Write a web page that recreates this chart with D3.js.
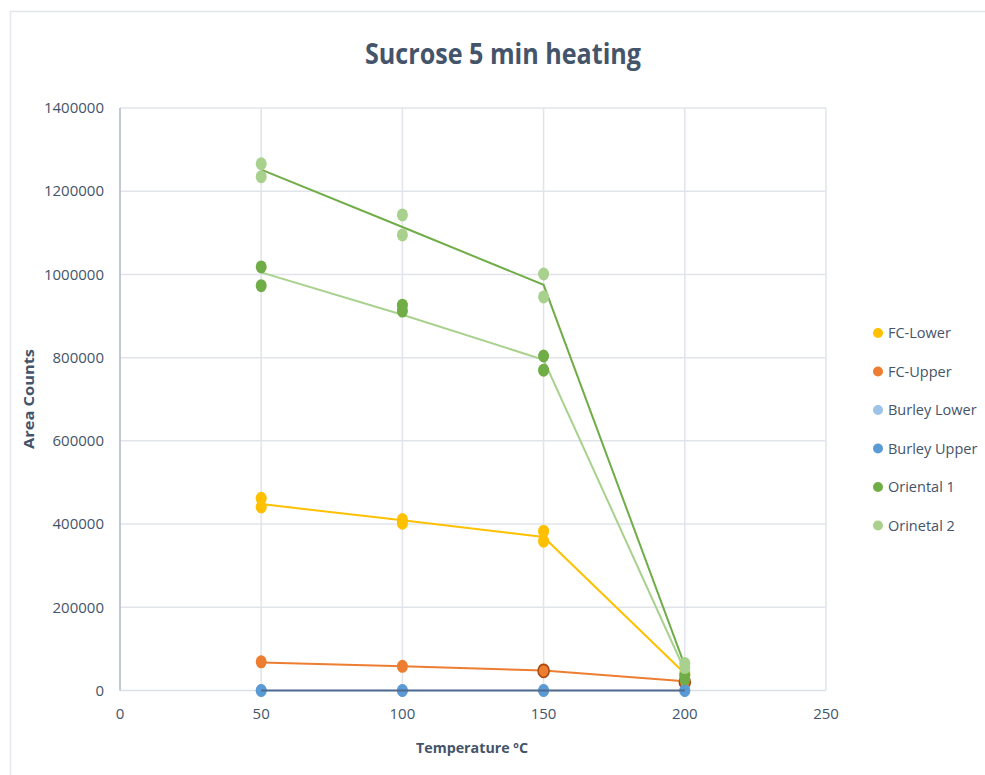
<!DOCTYPE html>
<html>
<head>
<meta charset="utf-8">
<script src="https://cdn.jsdelivr.net/npm/d3@7"></script>
<style>
  body { margin: 0; background: #fff; }
  svg { display: block; }
</style>
</head>
<body>
<svg id="chart" width="985" height="775"></svg>
<script>
// Data
const temps = [50, 100, 150, 200];

// two replicate readings per temperature
const fcLowerA = [462000, 411000, 383000, 42000];
const fcLowerB = [441000, 402000, 359000, 38000];
const fcUpperA = [69000, 58000, 50000, 23000];
const fcUpperB = [68000, 57000, 47000, 20000];
const burleyLowerA = [0, 0, 0, 0];
const burleyUpperA = [0, 0, 0, 0];
const oriental1A = [1018000, 926000, 804000, 36000];
const oriental1B = [973000, 912000, 770000, 28000];
const orinetal2A = [1266000, 1143000, 1001000, 65000];
const orinetal2B = [1235000, 1095000, 946000, 55000];

// connecting (mean) lines
const lineFcLower = [448000, 409000, 369000, 41000];
const lineFcUpper = [67000, 58000, 48000, 22000];
const lineBurley = [0, 0, 0, 0];
const lineOriDark = [1252000, 1114000, 975000, 60000];
const lineOriLight = [1005000, 903000, 795000, 48000];

const xTicks = [0, 50, 100, 150, 200, 250];
const yTicks = [0, 200000, 400000, 600000, 800000, 1000000, 1200000, 1400000];

const legendNames = ["FC-Lower", "FC-Upper", "Burley Lower", "Burley Upper", "Oriental 1", "Orinetal 2"];
const legendColors = ["#FFC000", "#ED7D31", "#9DC3E6", "#5B9BD5", "#70AD47", "#A9D18E"];

const svg = d3.select("#chart");
const textColor = "#44546A";
const font = "'Open Sans', 'DejaVu Sans', sans-serif";

// outer frame
svg.append("rect")
  .attr("x", 10.5).attr("y", 11.5)
  .attr("width", 1000).attr("height", 800)
  .attr("fill", "none").attr("stroke", "#E3E6EC").attr("stroke-width", 1.5);

const margin = { left: 120, right: 159, top: 108, bottom: 85 };
const width = 985, height = 775;

const x = d3.scaleLinear().domain([0, 250]).range([margin.left, width - margin.right]);
const y = d3.scaleLinear().domain([0, 1400000]).range([690.5, margin.top]);

// gridlines
svg.append("g")
  .selectAll("line")
  .data(yTicks.filter(d => d > 0))
  .join("line")
  .attr("x1", x(0)).attr("x2", x(250))
  .attr("y1", d => y(d)).attr("y2", d => y(d))
  .attr("stroke", "#E1E4EA").attr("stroke-width", 1.5);

svg.append("g")
  .selectAll("line")
  .data(xTicks.filter(d => d > 0))
  .join("line")
  .attr("x1", d => x(d)).attr("x2", d => x(d))
  .attr("y1", y(0)).attr("y2", y(1400000))
  .attr("stroke", "#E1E4EA").attr("stroke-width", 1.5);

// x axis line (light) and y axis line (darker)
svg.append("line")
  .attr("x1", x(0)).attr("x2", x(250))
  .attr("y1", y(0)).attr("y2", y(0))
  .attr("stroke", "#DCE0E7").attr("stroke-width", 1.5);
svg.append("line")
  .attr("x1", x(0)).attr("x2", x(0))
  .attr("y1", y(0)).attr("y2", y(1400000))
  .attr("stroke", "#AEB8C8").attr("stroke-width", 1.5);

// tick labels
svg.append("g")
  .selectAll("text")
  .data(yTicks)
  .join("text")
  .attr("x", x(0) - 16)
  .attr("y", d => y(d))
  .attr("dy", "0.35em")
  .attr("text-anchor", "end")
  .attr("font-family", font)
  .attr("font-size", 15)
  .attr("fill", textColor)
  .text(d => d);

svg.append("g")
  .selectAll("text")
  .data(xTicks)
  .join("text")
  .attr("x", d => x(d))
  .attr("y", y(0) + 28)
  .attr("text-anchor", "middle")
  .attr("font-family", font)
  .attr("font-size", 15)
  .attr("fill", textColor)
  .text(d => d);

// titles
svg.append("text")
  .attr("x", 503).attr("y", 64)
  .attr("text-anchor", "middle")
  .attr("font-family", font)
  .attr("font-size", 29)
  .attr("font-weight", "bold")
  .attr("fill", textColor)
  .attr("textLength", 276).attr("lengthAdjust", "spacingAndGlyphs")
  .text("Sucrose 5 min heating");

svg.append("text")
  .attr("x", 472).attr("y", 753)
  .attr("text-anchor", "middle")
  .attr("font-family", font)
  .attr("font-size", 14)
  .attr("font-weight", "bold")
  .attr("fill", textColor)
  .attr("textLength", 112).attr("lengthAdjust", "spacingAndGlyphs")
  .text("Temperature ºC");

svg.append("text")
  .attr("transform", `translate(34,${399}) rotate(-90)`)
  .attr("text-anchor", "middle")
  .attr("font-family", font)
  .attr("font-size", 14.5)
  .attr("font-weight", "bold")
  .attr("fill", textColor)
  .attr("textLength", 100).attr("lengthAdjust", "spacingAndGlyphs")
  .text("Area Counts");

// lines
const lineGen = d3.line().x((d, i) => x(temps[i])).y(d => y(d));
const lines = [
  { values: lineFcLower, color: "#FFC000" },
  { values: lineFcUpper, color: "#ED7D31" },
  { values: lineOriDark, color: "#70AD47" },
  { values: lineOriLight, color: "#A9D18E" }
];
svg.append("g")
  .selectAll("path")
  .data(lines)
  .join("path")
  .attr("d", d => lineGen(d.values))
  .attr("fill", "none")
  .attr("stroke", d => d.color)
  .attr("stroke-width", 2);

// markers
const series = [
  { reps: [fcLowerA, fcLowerB], color: "#FFC000", stroke: null },
  { reps: [fcUpperA], color: "#ED7D31", stroke: null },
  { reps: [fcUpperB], color: "#ED7D31", stroke: "#A5470F" },
  { reps: [burleyLowerA], color: "#9DC3E6", stroke: null },
  { reps: [burleyUpperA], color: "#5B9BD5", stroke: null },
  { reps: [oriental1A, oriental1B], color: "#70AD47", stroke: null },
  { reps: [orinetal2A, orinetal2B], color: "#A9D18E", stroke: null }
];

series.forEach(s => {
  s.reps.forEach(rep => {
    svg.append("g")
      .selectAll("ellipse")
      .data(rep.map((v, i) => ({ t: temps[i], v })).filter(d => !(s.stroke && d.t < 150)))
      .join("ellipse")
      .attr("cx", d => x(d.t))
      .attr("cy", d => y(d.v))
      .attr("rx", 5.5).attr("ry", 6.5)
      .attr("fill", s.color)
      .attr("stroke", s.stroke || "none")
      .attr("stroke-width", 1.5);
  });
});

// burley line drawn over its markers
svg.append("path")
  .attr("d", lineGen(lineBurley))
  .attr("fill", "none")
  .attr("stroke", "#4F6A8F")
  .attr("stroke-width", 2);

// legend
const legend = svg.append("g")
  .selectAll("g")
  .data(legendNames)
  .join("g")
  .attr("transform", (d, i) => `translate(878,${333 + i * 38.5})`);

legend.append("circle")
  .attr("r", 5)
  .attr("fill", (d, i) => legendColors[i]);

legend.append("text")
  .attr("x", 10)
  .attr("dy", "0.35em")
  .attr("font-family", font)
  .attr("font-size", 14.5)
  .attr("fill", textColor)
  .text(d => d);
</script>
</body>
</html>
